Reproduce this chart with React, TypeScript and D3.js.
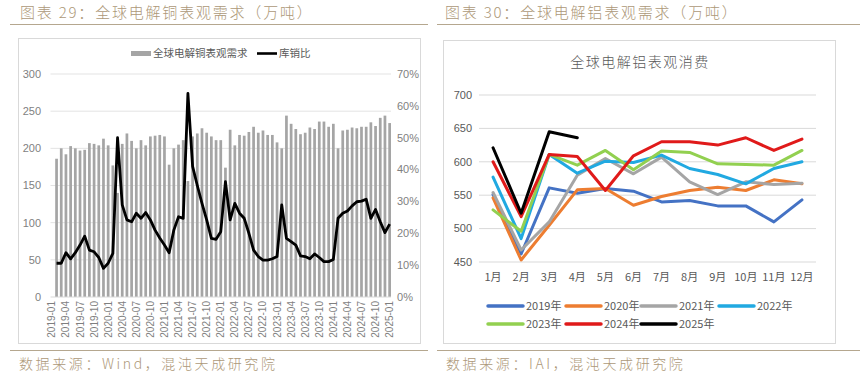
import React from "react";
import * as d3 from "d3";

// ---------- Left chart data (copper) ----------
const copperTickLabels = [
  "2019-01", "2019-04", "2019-07", "2019-10", "2020-01", "2020-04", "2020-07", "2020-10",
  "2021-01", "2021-04", "2021-07", "2021-10", "2022-01", "2022-04", "2022-07", "2022-10",
  "2023-01", "2023-04", "2023-07", "2023-10", "2024-01", "2024-04", "2024-07", "2024-10", "2025-01",
];
const copperMonths: string[] = [];
for (let y = 2019; y <= 2025; y++) {
  for (let m = 1; m <= 12; m++) {
    if (y === 2025 && m > 1) break;
    copperMonths.push(`${y}-${m < 10 ? "0" + m : m}`);
  }
}
const copperDemand: (number | null)[] = [
  null, 186, 200, 192, 203, 200, 197, 198, 207, 206, 204, 213, 204,
  177, 140, 206, 220, 210, 200, 211, 204, 216, 217, 218, 216,
  178, 200, 205, 211, 156, 216, 220, 227, 221, 216, 211, 211,
  174, 225, 204, 218, 217, 222, 229, 221, 224, 218, 218, 208,
  200, 244, 233, 226, 219, 221, 228, 226, 236, 236, 229, 233,
  200, 224, 225, 228, 227, 229, 229, 235, 230, 241, 244, 234,
];
const copperRatio: (number | null)[] = [
  null, 10.6, 10.6, 13.9, 12.0, 13.9, 16.3, 19.1, 14.7, 14.2, 12.4, 9.0, 10.6,
  13.7, 50.0, 28.9, 24.2, 23.6, 26.3, 24.7, 26.5, 24.2, 21.0, 18.5, 16.3,
  13.9, 21.0, 25.2, 24.7, 63.9, 41.0, 35.0, 29.4, 24.2, 18.4, 18.1, 20.5,
  36.2, 24.2, 29.4, 26.3, 24.7, 20.0, 14.7, 12.7, 11.6, 11.6, 12.0, 12.7,
  28.9, 18.4, 17.4, 16.3, 12.9, 12.7, 12.0, 13.5, 12.4, 11.1, 11.1, 11.8,
  24.7, 26.3, 27.0, 28.6, 29.9, 30.1, 30.7, 24.7, 27.5, 23.6, 20.2, 22.9,
];
const copperLeftTicks = [0, 50, 100, 150, 200, 250, 300];
const copperRightTicks = [0, 10, 20, 30, 40, 50, 60, 70];

// ---------- Right chart data (aluminium) ----------
const alMonths = ["1月", "2月", "3月", "4月", "5月", "6月", "7月", "8月", "9月", "10月", "11月", "12月"];
const alYears = ["2019年", "2020年", "2021年", "2022年", "2023年", "2024年", "2025年"];
const al2019 = [551, 462, 561, 553, 560, 556, 540, 542, 534, 534, 510, 543];
const al2020 = [546, 453, 505, 558, 560, 535, 548, 557, 562, 557, 573, 567];
const al2021 = [554, 468, 510, 580, 605, 582, 607, 570, 551, 570, 566, 568];
const al2022 = [577, 485, 611, 583, 601, 599, 610, 590, 581, 567, 590, 600];
const al2023 = [528, 496, 611, 595, 617, 588, 616, 614, 597, 596, 595, 617];
const al2024 = [600, 518, 611, 608, 557, 609, 630, 630, 625, 636, 617, 634];
const al2025 = [621, 523, 645, 636];
const alColors = ["#4472c4", "#ed7d31", "#a5a5a5", "#21a9e1", "#92d050", "#e01a1a", "#000000"];
const alTicks = [450, 500, 550, 600, 650, 700];

const FONT = "'Liberation Sans', 'Noto Sans CJK SC', sans-serif";
const CJK = "'Noto Sans CJK SC', sans-serif";
const TAN = "#ad9878";

function CopperChart() {
  const x = d3.scaleBand<string>().domain(copperMonths).range([50.5, 391]).paddingInner(0.42).paddingOuter(0);
  const yL = d3.scaleLinear().domain([0, 300]).range([297, 74]);
  const yR = d3.scaleLinear().domain([0, 70]).range([297, 74]);
  const cx = (m: string) => (x(m) as number) + x.bandwidth() / 2;
  const line = d3
    .line<number | null>()
    .defined((d) => d !== null)
    .x((_, i) => cx(copperMonths[i]))
    .y((d) => yR(d as number));
  return (
    <g>
      <rect x={18.5} y={38.5} width={402} height={305} fill="#fff" stroke="#d9d9d9" />
      {copperLeftTicks.map((t) => (
        <g key={t}>
          {t > 0 && <line x1={50.5} x2={391} y1={yL(t)} y2={yL(t)} stroke="#e3e3e3" />}
          <text x={41} y={yL(t)} dy="0.35em" textAnchor="end" fontSize={11} fill="#7f7f7f" fontFamily={FONT}>
            {t}
          </text>
        </g>
      ))}
      {copperRightTicks.map((t) => (
        <text key={t} x={397} y={yR(t)} dy="0.35em" fontSize={11} fill="#7f7f7f" fontFamily={FONT}>
          {t}%
        </text>
      ))}
      {copperDemand.map((v, i) =>
        v === null ? null : (
          <rect key={i} x={x(copperMonths[i])} width={x.bandwidth()} y={yL(v)} height={yL(0) - yL(v)} fill="#a5a5a5" />
        )
      )}
      <line x1={50.5} x2={391} y1={297} y2={297} stroke="#d9d9d9" />
      <path d={line(copperRatio) || ""} fill="none" stroke="#000" strokeWidth={2.8} strokeLinejoin="round" />
      {copperTickLabels.map((l) => (
        <text
          key={l}
          transform={`translate(${cx(l)},301) rotate(-90)`}
          dy="0.35em"
          textAnchor="end"
          fontSize={10}
          fill="#7f7f7f"
          fontFamily={FONT}
        >
          {l}
        </text>
      ))}
      {/* legend */}
      <rect x={131} y={51} width={20} height={5} fill="#a5a5a5" />
      <text x={153} y={53.5} dy="0.35em" fontSize={10.5} fill="#595959" fontFamily={CJK}>
        全球电解铜表观需求
      </text>
      <line x1={257} x2={277} y1={53.5} y2={53.5} stroke="#000" strokeWidth={2.6} />
      <text x={279} y={53.5} dy="0.35em" fontSize={10.5} fill="#595959" fontFamily={CJK}>
        库销比
      </text>
    </g>
  );
}

function AlChart() {
  const x = d3.scaleBand<string>().domain(alMonths).range([479, 816]);
  const y = d3.scaleLinear().domain([450, 700]).range([262, 95]);
  const cx = (m: string) => (x(m) as number) + x.bandwidth() / 2;
  const series = [al2019, al2020, al2021, al2022, al2023, al2024, al2025];
  const line = d3
    .line<number>()
    .x((_, i) => cx(alMonths[i]))
    .y((d) => y(d));
  const legendPos = [
    [488, 306], [566, 306], [641, 306], [719, 306],
    [488, 324], [566, 324], [641, 324],
  ];
  return (
    <g>
      <rect x={443.5} y={40.5} width={392} height={303} fill="#fff" stroke="#d9d9d9" />
      <text x={640} y={62} dy="0.35em" textAnchor="middle" fontSize={14} letterSpacing={1.5} fill="#595959" fontFamily={CJK} fontWeight={300}>
        全球电解铝表观消费
      </text>
      {alTicks.map((t) => (
        <g key={t}>
          <line x1={479} x2={816} y1={y(t)} y2={y(t)} stroke="#d9d9d9" />
          <text x={472} y={y(t)} dy="0.35em" textAnchor="end" fontSize={11} fill="#595959" fontFamily={FONT}>
            {t}
          </text>
        </g>
      ))}
      {alMonths.map((m) => (
        <text key={m} x={cx(m)} y={277} dy="0.35em" textAnchor="middle" fontSize={11} fill="#595959" fontFamily={CJK}>
          {m}
        </text>
      ))}
      {series.map((s, i) => (
        <path key={i} d={line(s) || ""} fill="none" stroke={alColors[i]} strokeWidth={3} strokeLinejoin="round" strokeLinecap="round" />
      ))}
      {alYears.map((yr, i) => (
        <g key={yr}>
          <line x1={legendPos[i][0]} x2={legendPos[i][0] + 35} y1={legendPos[i][1]} y2={legendPos[i][1]} stroke={alColors[i]} strokeWidth={3.5} strokeLinecap="round" />
          <text x={legendPos[i][0] + 38} y={legendPos[i][1]} dy="0.35em" fontSize={11} fill="#595959" fontFamily={CJK}>
            {yr}
          </text>
        </g>
      ))}
    </g>
  );
}

export default function App() {
  return (
    <svg
      width={865}
      height={376}
      style={{ position: "absolute", left: 0, top: 0, background: "#fff" }}
    >
      <rect width={865} height={376} fill="#fff" />
      <text x={20} y={13} dy="0.35em" fontSize={15} letterSpacing={1.8} fill={TAN} fontFamily={CJK} fontWeight={300}>
        图表 29：全球电解铜表观需求（万吨）
      </text>
      <text x={445} y={13} dy="0.35em" fontSize={15} letterSpacing={1.8} fill={TAN} fontFamily={CJK} fontWeight={300}>
        图表 30：全球电解铝表观需求（万吨）
      </text>
      <line x1={10} x2={428} y1={24.5} y2={24.5} stroke="#b5a78f" strokeWidth={1} />
      <line x1={437} x2={860} y1={24.5} y2={24.5} stroke="#b5a78f" strokeWidth={1} />
      <CopperChart />
      <AlChart />
      <line x1={10} x2={428} y1={350.5} y2={350.5} stroke="#b5a78f" strokeWidth={1} />
      <line x1={437} x2={860} y1={350.5} y2={350.5} stroke="#b5a78f" strokeWidth={1} />
      <text x={19} y={364} dy="0.35em" fontSize={14} letterSpacing={2.6} fill={TAN} fontFamily={CJK} fontWeight={300}>
        数据来源：Wind，混沌天成研究院
      </text>
      <text x={446} y={364} dy="0.35em" fontSize={14} letterSpacing={2.6} fill={TAN} fontFamily={CJK} fontWeight={300}>
        数据来源：IAI，混沌天成研究院
      </text>
    </svg>
  );
}
